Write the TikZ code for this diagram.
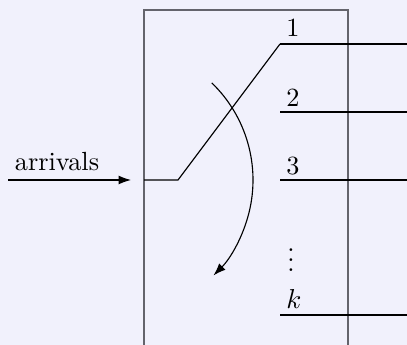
\documentclass[tikz,border=0pt]{standalone}
\usetikzlibrary{arrows.meta}
\definecolor{bg}{RGB}{241,241,252}
\definecolor{boxgray}{RGB}{100,100,108}
\begin{document}
\begin{tikzpicture}[x=0.4pt,y=0.4pt,
  lbl/.style={inner sep=0pt,font=\fontsize{10.5}{12}\selectfont},
  wire/.style={draw=black,line width=0.45pt},
  arr/.style={wire,-{Latex[length=5pt,width=3.6pt]}}]
\clip (0,0) rectangle (407,-345);
\fill[bg] (0,0) rectangle (407,-345);
% server box
\draw[boxgray,line width=0.7pt] (144,-360) -- (144,-10) -- (348,-10) -- (348,-360);
% output lines
\coordinate (o1) at (280,-44);  \coordinate (e1) at (410,-44);
\coordinate (o2) at (280,-112); \coordinate (e2) at (410,-112);
\coordinate (o3) at (280,-180); \coordinate (e3) at (410,-180);
\coordinate (ok) at (280,-315); \coordinate (ek) at (410,-315);
\draw[wire] (o1) -- (e1);
\draw[wire] (o2) -- (e2);
\draw[wire] (o3) -- (e3);
\draw[wire] (ok) -- (ek);
\node[lbl] (l1) at (293,-28) {1};
\node[lbl] (l2) at (293,-98) {2};
\node[lbl] (l3) at (293,-166) {3};
\node[lbl] (ld) at (291,-253) {$\vdots$};
\node[lbl] (lk) at (294,-299) {$k$};
% arrivals
\coordinate (a0) at (8,-180);
\coordinate (a1) at (131,-180);
\draw[arr] (a0) -- (a1);
\node[lbl] (arrivals) at (57,-162) {arrivals};
% switch
\coordinate (s0) at (144,-180);
\coordinate (s1) at (178,-180);
\draw[wire] (s0) -- (s1) -- (o1);
% rotation arrow
\coordinate (c) at (118,-180);
\draw[arr] ([shift={(46:135)}]c) arc[start angle=46,end angle=-45,radius=135];
\end{tikzpicture}
\end{document}
